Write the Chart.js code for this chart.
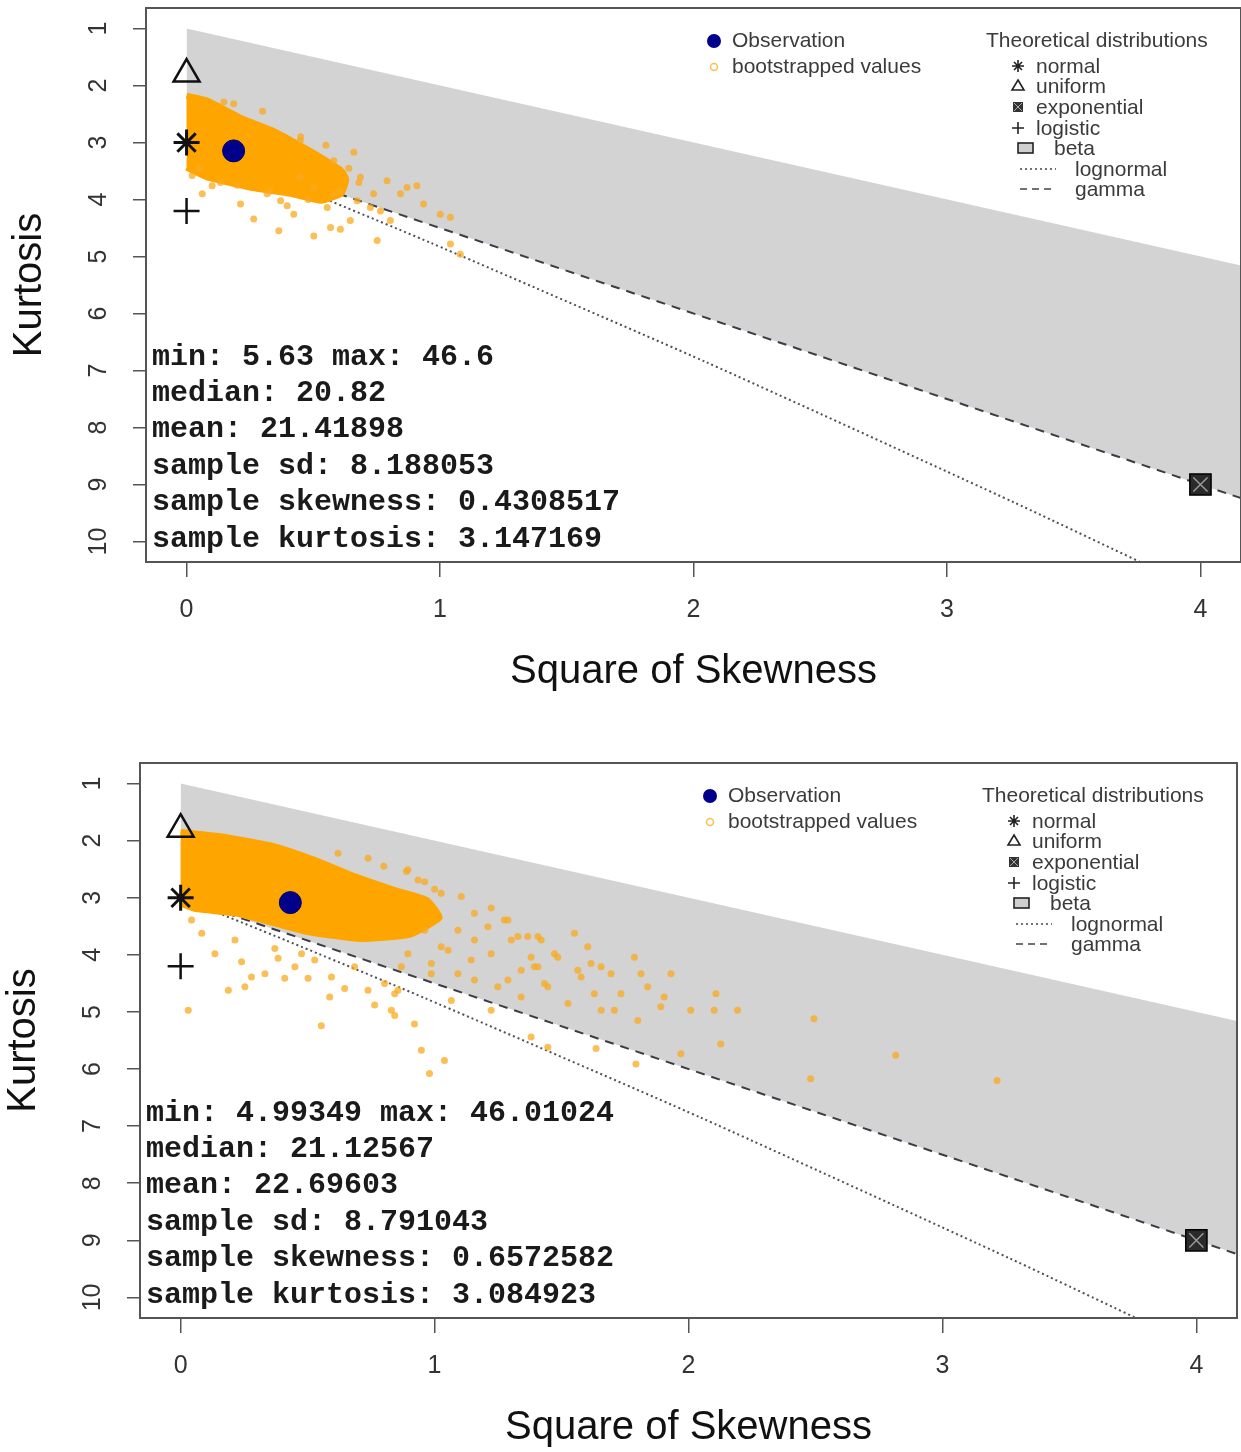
<!DOCTYPE html>
<html>
<head>
<meta charset="utf-8">
<script src="https://cdn.jsdelivr.net/npm/chart.js@4.4.1/dist/chart.umd.min.js"></script>
<style>
  body { margin: 0; background: #fff; width: 1241px; height: 1452px; overflow: hidden; position: relative; }
  canvas { position: absolute; left: 0; }
  #topChart { top: 0; }
  #bottomChart { top: 745px; }
</style>
</head>
<body>
<canvas id="topChart" width="1241" height="720"></canvas>
<canvas id="bottomChart" width="1241" height="707"></canvas>
<script>
// axis ticks
const xTicks = [0, 1, 2, 3, 4]
const yTicks = [1, 2, 3, 4, 5, 6, 7, 8, 9, 10]

// theoretical distributions (square of skewness, kurtosis)
const normalPt = [0, 3]
const uniformPt = [0, 1.8]
const logisticPt = [0, 4.2]
const exponentialPt = [4, 9]
const betaUpperX = [0, 4.16]
const betaUpperY = [1, 5.16]
const gammaX = [0, 4.16]
const gammaY = [3, 9.24]
const lognormX = [0, 0.417, 0.961, 2.048, 3.267, 3.928]
const lognormY = [3, 3.751, 4.756, 6.85, 9.32, 10.71]

// top panel
const topObservation = [0.1856, 3.147]
const topCoreX = [0, 0.08, 0.21, 0.34, 0.44, 0.53, 0.61, 0.63, 0.61, 0.53, 0.41, 0.25, 0.08, 0]
const topCoreY = [2.18, 2.26, 2.56, 2.79, 3.03, 3.26, 3.49, 3.65, 3.90, 4.02, 3.90, 3.79, 3.61, 3.44]
const topBootX = [0.022, 0.062, 0.101, 0.134, 0.213, 0.265, 0.364, 0.423, 0.502, 0.568, 0.607, 0.646, 0.660, 0.686,
  0.738, 0.752, 0.791, 0.804, 0.870, 0.909, 0.935, 1.001, 1.041, 1.041, 1.080, 0.449, 0.581, 0.673, 0.725, 0.765,
  0.449, 0.555, 0.502, 0.607, 0.318, 0.371, 0.397, 0.186, 0.147, 0.844, 0.30, 0.45, 0.55, 0.64, 0.68, 0.58, 0.48,
  0.33, 0.20, 0.05]
const topBootY = [3.58, 3.90, 3.76, 3.70, 4.08, 4.34, 4.55, 4.26, 4.64, 4.49, 4.52, 4.37, 3.17, 3.61,
  3.90, 4.72, 3.67, 4.37, 3.79, 3.76, 4.08, 4.26, 4.31, 4.78, 4.96, 2.97, 3.32, 4.02, 4.14, 4.20,
  3.61, 4.14, 3.79, 3.85, 3.90, 4.02, 4.11, 2.32, 2.29, 3.90, 2.45, 2.90, 3.05, 3.45, 3.70, 3.90, 4.00,
  3.85, 3.75, 3.45]
const topStats = ["min: 5.63 max: 46.6", "median: 20.82", "mean: 21.41898", "sample sd: 8.188053",
  "sample skewness: 0.4308517", "sample kurtosis: 3.147169"]

// bottom panel
const bottomObservation = [0.432, 3.085]
const bottomCoreX = [0, 0.17, 0.37, 0.53, 0.69, 0.84, 0.97, 1.02, 0.90, 0.70, 0.50, 0.37, 0.21, 0.06, 0]
const bottomCoreY = [1.85, 1.93, 2.10, 2.34, 2.63, 2.86, 3.04, 3.35, 3.65, 3.72, 3.60, 3.45, 3.27, 3.20, 3.10]
const bottomBootX = [0.889, 0.961, 1.105, 1.223, 1.275, 1.302, 1.367, 1.420, 1.380, 1.407, 1.341, 1.472, 1.446, 1.485,
  1.551, 1.564, 1.603, 1.616, 1.577, 1.629, 1.656, 1.695, 1.734, 1.708, 1.656, 1.787, 1.813, 1.839, 1.904, 1.931,
  1.891, 1.800, 2.009, 2.101, 2.108, 2.193, 2.127, 1.970, 1.793, 1.636, 1.380, 1.446, 1.525, 1.341, 1.249, 1.223,
  1.066, 0.921, 0.948, 1.039, 0.980, 0.843, 0.830, 1.210, 1.144, 1.053, 0.987,
  2.494, 2.481, 2.816, 3.215,
  0.030, 0.188, 0.240, 0.135, 0.253, 0.279, 0.332, 0.384, 0.410, 0.450, 0.502, 0.554, 0.587, 0.594, 0.646, 0.738,
  0.764, 0.843, 0.083, 0.043, 0.214, 0.371, 0.476, 0.528, 0.685, 0.803, 0.856,
  0.935, 1.026, 1.157, 1.289, 1.328, 1.407, 1.092, 1.157, 1.223, 1.026, 0.961, 0.987, 1.157, 1.289, 1.092, 0.895,
  0.869, 1.393, 1.433,
  0.738, 0.895, 0.620, 0.80, 1.0]
const bottomBootY = [2.54, 2.72, 2.98, 3.18, 3.39, 3.74, 3.68, 3.74, 4.04, 4.21, 4.27, 3.98, 4.56, 4.04,
  3.62, 4.27, 3.86, 4.15, 4.39, 4.68, 4.21, 4.33, 4.68, 4.97, 4.97, 4.04, 4.33, 4.56, 4.74, 4.33,
  4.91, 5.15, 4.97, 4.97, 4.68, 4.97, 5.56, 5.73, 5.91, 5.64, 5.44, 5.62, 4.85, 4.74, 4.56, 4.97,
  4.80, 5.21, 5.67, 5.85, 6.08, 4.68, 4.97, 3.51, 4.09, 3.92, 4.33,
  5.12, 6.17, 5.76, 6.20,
  4.97, 4.62, 4.12, 3.98, 4.56, 4.39, 4.33, 4.06, 4.41, 4.21, 4.41, 5.24, 4.74, 4.39, 4.59, 4.62,
  4.88, 5.06, 3.62, 3.39, 3.74, 3.89, 3.98, 4.09, 4.21, 4.50, 4.62,
  2.69, 2.92, 3.27, 3.39, 3.68, 3.68, 3.57, 3.74, 3.98, 3.86, 3.57, 4.15, 4.44, 4.44, 4.33, 3.98,
  4.21, 4.21, 4.50,
  2.31, 2.51, 2.22, 2.45, 2.85]
const bottomStats = ["min: 4.99349 max: 46.01024", "median: 21.12567", "mean: 22.69603", "sample sd: 8.791043",
  "sample skewness: 0.6572582", "sample kurtosis: 3.084923"]

Chart.defaults.font.family = '"Liberation Sans", Arial, sans-serif'

const zip = (xs, ys) => xs.map((x, i) => ({ x: x, y: ys[i] }))
const pt = (p) => [{ x: p[0], y: p[1] }]

// frame, summary text and legend in the style of descdist()
const cfPanel = {
  id: "cfPanel",
  afterDraw(chart, args, opts) {
    const ctx = chart.ctx
    const a = chart.chartArea
    ctx.save()
    ctx.strokeStyle = "#555"
    ctx.lineWidth = 2
    ctx.strokeRect(a.left, a.top, a.right - a.left, a.bottom - a.top)

    ctx.font = 'bold 30px "Liberation Mono", "Courier New", monospace'
    ctx.fillStyle = "#1a1a1a"
    ctx.textBaseline = "middle"
    ctx.textAlign = "left"
    opts.stats.forEach((s, i) => {
      ctx.fillText(s, a.left + 6, a.bottom - 23 - (opts.stats.length - 1 - i) * 36.4)
    })

    const R = a.right, T = a.top
    ctx.font = '21px "Liberation Sans", Arial, sans-serif'
    ctx.beginPath()
    ctx.arc(R - 527, T + 33, 7, 0, Math.PI * 2)
    ctx.fillStyle = "#00008B"
    ctx.fill()
    ctx.beginPath()
    ctx.arc(R - 527, T + 59, 3.5, 0, Math.PI * 2)
    ctx.strokeStyle = "rgba(250,175,40,0.8)"
    ctx.lineWidth = 1.5
    ctx.stroke()
    ctx.fillStyle = "#3b3b3b"
    ctx.fillText("Observation", R - 509, T + 33)
    ctx.fillText("bootstrapped values", R - 509, T + 59)
    ctx.fillText("Theoretical distributions", R - 255, T + 33)

    const mx = R - 223
    ctx.strokeStyle = "#222"
    ctx.lineWidth = 1.6
    // normal: star
    let y = T + 58
    ctx.beginPath()
    ctx.moveTo(mx - 6, y); ctx.lineTo(mx + 6, y)
    ctx.moveTo(mx, y - 6); ctx.lineTo(mx, y + 6)
    ctx.moveTo(mx - 4, y - 4); ctx.lineTo(mx + 4, y + 4)
    ctx.moveTo(mx - 4, y + 4); ctx.lineTo(mx + 4, y - 4)
    ctx.stroke()
    // uniform: triangle
    y = T + 78
    ctx.beginPath()
    ctx.moveTo(mx, y - 6); ctx.lineTo(mx + 6, y + 4); ctx.lineTo(mx - 6, y + 4); ctx.closePath()
    ctx.stroke()
    // exponential: boxed cross
    y = T + 99
    ctx.fillStyle = "#333"
    ctx.fillRect(mx - 5, y - 5, 10, 10)
    ctx.strokeStyle = "#aaa"
    ctx.lineWidth = 1
    ctx.beginPath()
    ctx.moveTo(mx - 4, y - 4); ctx.lineTo(mx + 4, y + 4)
    ctx.moveTo(mx - 4, y + 4); ctx.lineTo(mx + 4, y - 4)
    ctx.stroke()
    // logistic: plus
    y = T + 120
    ctx.strokeStyle = "#222"
    ctx.lineWidth = 1.6
    ctx.beginPath()
    ctx.moveTo(mx - 6, y); ctx.lineTo(mx + 6, y)
    ctx.moveTo(mx, y - 6); ctx.lineTo(mx, y + 6)
    ctx.stroke()
    // beta: grey box
    y = T + 140
    ctx.fillStyle = "#cfcfcf"
    ctx.fillRect(mx, y - 5, 15, 10)
    ctx.strokeRect(mx, y - 5, 15, 10)
    // lognormal: dotted, gamma: dashed
    ctx.strokeStyle = "#444"
    ctx.lineWidth = 1.5
    ctx.setLineDash([2, 3])
    ctx.beginPath(); ctx.moveTo(mx + 2, T + 161); ctx.lineTo(mx + 38, T + 161); ctx.stroke()
    ctx.setLineDash([7, 5])
    ctx.beginPath(); ctx.moveTo(mx + 2, T + 181); ctx.lineTo(mx + 38, T + 181); ctx.stroke()
    ctx.setLineDash([])

    ctx.fillStyle = "#3b3b3b"
    ctx.fillText("normal", R - 205, T + 59)
    ctx.fillText("uniform", R - 205, T + 79)
    ctx.fillText("exponential", R - 205, T + 100)
    ctx.fillText("logistic", R - 205, T + 121)
    ctx.fillText("beta", R - 187, T + 141)
    ctx.fillText("lognormal", R - 166, T + 162)
    ctx.fillText("gamma", R - 166, T + 182)
    ctx.restore()
  },
}

const noPadding = (s) => {
  s.paddingTop = 0
  s.paddingBottom = 0
  s.paddingLeft = 0
  s.paddingRight = 0
}

function buildChart(id, p) {
  const ctx = document.getElementById(id).getContext("2d")
  return new Chart(ctx, {
    type: "scatter",
    data: {
      datasets: [
        { label: "Observation", data: pt(p.obs), pointRadius: 11, pointBackgroundColor: "#00008B", pointBorderColor: "#00006a", pointBorderWidth: 1 },
        { label: "normal", data: pt(normalPt), pointStyle: "star", pointRadius: 13, pointBorderColor: "#111", pointBorderWidth: 3 },
        { label: "uniform", data: pt(uniformPt), pointStyle: "triangle", pointRadius: 15, pointBackgroundColor: "rgba(0,0,0,0)", pointBorderColor: "#111", pointBorderWidth: 2.5 },
        { label: "logistic", data: pt(logisticPt), pointStyle: "cross", pointRadius: 13, pointBorderColor: "#111", pointBorderWidth: 2.5 },
        { label: "exponential cross", data: pt(exponentialPt), pointStyle: "crossRot", pointRadius: 10, pointBorderColor: "#999", pointBorderWidth: 1.5 },
        { label: "exponential", data: pt(exponentialPt), pointStyle: "rect", pointRadius: 15, pointBackgroundColor: "#2a2a2a", pointBorderColor: "#000", pointBorderWidth: 1.5 },
        { label: "bootstrapped values", data: zip(p.bootX, p.bootY), pointRadius: 3.5, pointBackgroundColor: "rgba(250,170,30,0.75)", pointBorderWidth: 0 },
        { label: "bootstrap core", data: zip(p.coreX, p.coreY), showLine: true, fill: "shape", backgroundColor: "#FFA500", borderColor: "#FFA500", borderWidth: 6, pointRadius: 0, tension: 0.15 },
        { label: "gamma", data: zip(gammaX, gammaY), showLine: true, borderColor: "#3c3c46", borderWidth: 2, borderDash: [9, 7], pointRadius: 0 },
        { label: "lognormal", data: zip(lognormX, lognormY), showLine: true, borderColor: "#50505a", borderWidth: 2, borderDash: [2, 3], pointRadius: 0, tension: 0.2 },
        { label: "beta", data: zip(betaUpperX, betaUpperY), showLine: true, borderWidth: 0, pointRadius: 0, fill: "+1", backgroundColor: "#D3D3D3" },
        { label: "beta lower", data: zip(gammaX, gammaY), showLine: true, borderWidth: 0, pointRadius: 0, fill: false },
      ],
    },
    options: {
      responsive: false,
      animation: false,
      devicePixelRatio: 1,
      layout: { padding: p.pad, autoPadding: false },
      plugins: {
        legend: { display: false },
        tooltip: { enabled: false },
        cfPanel: { stats: p.stats },
      },
      scales: {
        x: {
          type: "linear",
          min: -0.16,
          max: 4.16,
          afterBuildTicks: (s) => { s.ticks = xTicks.map((v) => ({ value: v })) },
          afterFit: (s) => { s.height = p.xAxisH; noPadding(s) },
          border: { display: false },
          grid: { drawOnChartArea: false, tickLength: 15, color: "#555", lineWidth: 1.5 },
          ticks: { padding: 18, color: "#333", font: { size: 25 } },
          title: { display: true, text: "Square of Skewness", color: "#111", font: { size: 40 }, padding: { top: 0, bottom: p.xTitlePad } },
        },
        y: {
          type: "linear",
          reverse: true,
          min: 0.64,
          max: 10.36,
          afterBuildTicks: (s) => { s.ticks = yTicks.map((v) => ({ value: v })) },
          afterFit: (s) => { s.width = p.yAxisW; noPadding(s) },
          border: { display: false },
          grid: { drawOnChartArea: false, tickLength: 13, color: "#555", lineWidth: 1.5 },
          ticks: { minRotation: 90, maxRotation: 90, crossAlign: "center", autoSkip: false, padding: 20, color: "#333", font: { size: 25 } },
          title: { display: true, text: "Kurtosis", color: "#111", font: { size: 40 }, padding: { top: p.yTitlePad, bottom: 0 } },
        },
      },
    },
    plugins: [cfPanel],
  })
}

buildChart("topChart", {
  obs: topObservation, bootX: topBootX, bootY: topBootY, coreX: topCoreX, coreY: topCoreY, stats: topStats,
  pad: { top: 8, right: 0, left: 0, bottom: 0 }, xAxisH: 158, yAxisW: 146, xTitlePad: 24, yTitlePad: 6,
})
buildChart("bottomChart", {
  obs: bottomObservation, bootX: bottomBootX, bootY: bottomBootY, coreX: bottomCoreX, coreY: bottomCoreY, stats: bottomStats,
  pad: { top: 18, right: 4, left: 0, bottom: 0 }, xAxisH: 134, yAxisW: 140, xTitlePad: 0, yTitlePad: 0,
})
</script>
</body>
</html>
